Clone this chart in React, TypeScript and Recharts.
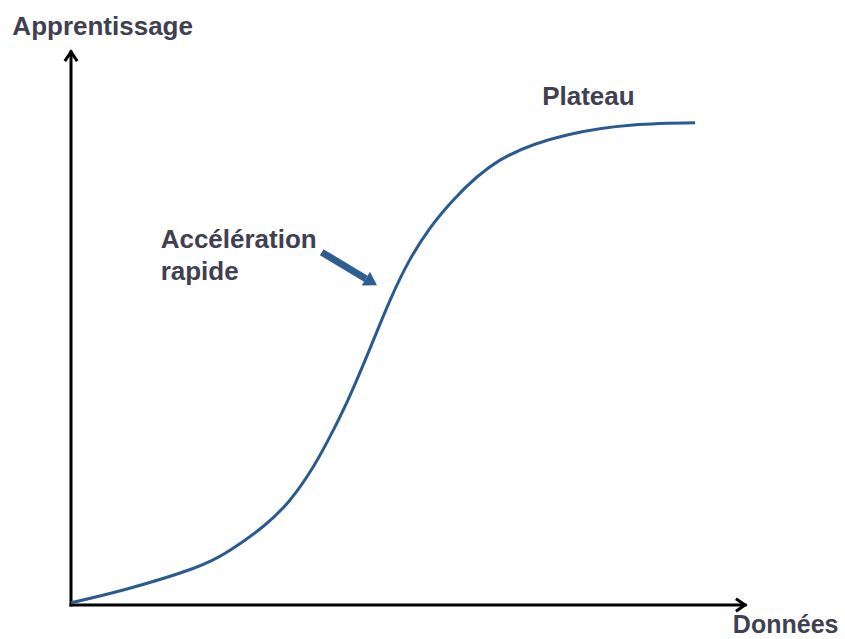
import {
  LineChart,
  Line,
  XAxis,
  YAxis,
  ReferenceLine,
  ReferenceDot,
} from "recharts";

// courbe en S : x = données, y = apprentissage (0-100)
const donnees = [0, 8.3, 18.1, 23.6, 28.5, 32.5, 35.9, 38.4, 41.1, 44.4, 47.3, 50.3, 53.3, 56.7, 63.6, 73.6, 83.4, 92.6];
const apprentissage = [0.4, 2.9, 6.6, 9.9, 14.2, 19.0, 24.9, 30.4, 37.1, 46.5, 55.0, 62.5, 68.2, 73.2, 80.4, 85.0, 86.8, 87.2];

// libellés et leur ancrage (en unités de données)
const labelTexts = ["Apprentissage", "Données", "Plateau", "Accélération", "rapide"];
const labelX = [-8.7, 98.2, 69.9, 13.3, 13.3];
const labelY = [103.1, -5.0, 90.4, 64.6, 58.8];
const labelSize = [26, 25, 26, 26, 26];

// flèche d'annotation : départ -> pointe
const arrowFrom = { x: 37.2, y: 63.8 };
const arrowTo = { x: 45.4, y: 57.8 };

const CURVE = "#2b5a8e";
const ARROW = "#2e5d93";
const TEXT = "#404050";

const data = donnees.map((x, i) => ({ x, y: apprentissage[i] }));

type Seg = { x1?: number; y1?: number; x2?: number; y2?: number };

// axe noir avec pointe en chevron au bout
const axisShape = (p: Seg) => {
  const { x1 = 0, y1 = 0, x2 = 0, y2 = 0 } = p;
  const a = Math.atan2(y2 - y1, x2 - x1);
  const len = 11;
  const spread = 0.6;
  const ax = x2 - len * Math.cos(a - spread);
  const ay = y2 - len * Math.sin(a - spread);
  const bx = x2 - len * Math.cos(a + spread);
  const by = y2 - len * Math.sin(a + spread);
  return (
    <g>
      <line x1={x1} y1={y1} x2={x2} y2={y2} stroke="#000" strokeWidth={3} strokeLinecap="square" />
      <polyline
        points={`${ax},${ay} ${x2},${y2} ${bx},${by}`}
        fill="none"
        stroke="#000"
        strokeWidth={3}
        strokeLinejoin="miter"
      />
    </g>
  );
};

// grosse flèche bleue
const bigArrowShape = (p: Seg) => {
  const { x1 = 0, y1 = 0, x2 = 0, y2 = 0 } = p;
  const a = Math.atan2(y2 - y1, x2 - x1);
  const head = 13;
  const hw = 8;
  const bx = x2 - head * Math.cos(a);
  const by = y2 - head * Math.sin(a);
  const nx = -Math.sin(a);
  const ny = Math.cos(a);
  return (
    <g>
      <line x1={x1} y1={y1} x2={bx} y2={by} stroke={ARROW} strokeWidth={7} />
      <polygon
        points={`${x2},${y2} ${bx + nx * hw},${by + ny * hw} ${bx - nx * hw},${by - ny * hw}`}
        fill={ARROW}
      />
    </g>
  );
};

export default function App() {
  return (
    <div style={{ position: "absolute", left: 0, top: 0, background: "#fff" }}>
      <LineChart
        width={845}
        height={639}
        data={data}
        margin={{ top: 52, right: 100, bottom: 34, left: 71 }}
      >
        <XAxis type="number" dataKey="x" domain={[0, 100]} hide />
        <YAxis type="number" domain={[0, 100]} hide />
        <ReferenceLine
          segment={[{ x: 0, y: 0 }, { x: 0, y: 100 }]}
          shape={axisShape}
          ifOverflow="visible"
        />
        <ReferenceLine
          segment={[{ x: 0, y: 0 }, { x: 100, y: 0 }]}
          shape={axisShape}
          ifOverflow="visible"
        />
        <Line
          type="natural"
          dataKey="y"
          stroke={CURVE}
          strokeWidth={3}
          dot={false}
          activeDot={false}
          isAnimationActive={false}
        />
        <ReferenceLine
          segment={[arrowFrom, arrowTo]}
          shape={bigArrowShape}
          ifOverflow="visible"
        />
        {labelTexts.map((t, i) => (
          <ReferenceDot
            key={t}
            x={labelX[i]}
            y={labelY[i]}
            ifOverflow="visible"
            shape={(p: { cx?: number; cy?: number }) => (
              <text
                x={p.cx}
                y={p.cy}
                fill={TEXT}
                fontFamily="'Liberation Sans', Arial, sans-serif"
                fontWeight="bold"
                fontSize={labelSize[i]}
              >
                {t}
              </text>
            )}
          />
        ))}
      </LineChart>
    </div>
  );
}
